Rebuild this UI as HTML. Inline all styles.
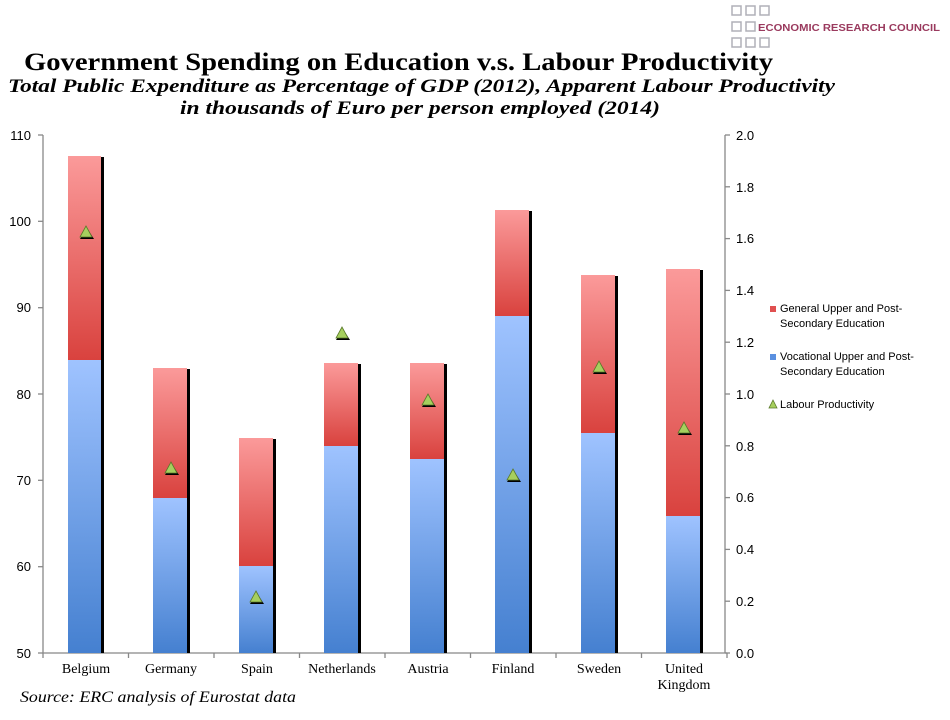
<!DOCTYPE html>
<html><head><meta charset="utf-8"><style>
body{margin:0;background:#fff;width:950px;height:715px;overflow:hidden;font-family:"Liberation Serif",serif}
</style></head><body>
<svg width="950" height="715" xmlns="http://www.w3.org/2000/svg">
<defs>
<linearGradient id="r" x1="0" y1="0" x2="0" y2="1"><stop offset="0" stop-color="#fb9a9a"/><stop offset="1" stop-color="#d9423e"/></linearGradient>
<linearGradient id="b" x1="0" y1="0" x2="0" y2="1"><stop offset="0" stop-color="#9fc3ff"/><stop offset="1" stop-color="#4580d0"/></linearGradient>
</defs>
<g fill="none" stroke="#b0b0b8" stroke-width="1.5">
<rect x="732" y="6" width="9" height="9"/><rect x="746" y="6" width="9" height="9"/><rect x="760" y="6" width="9" height="9"/>
<rect x="732" y="22" width="9" height="9"/><rect x="746" y="22" width="9" height="9"/>
<rect x="732" y="38" width="9" height="9"/><rect x="746" y="38" width="9" height="9"/><rect x="760" y="38" width="9" height="9"/>
</g>
<text x="758" y="31" font-family="Liberation Sans,sans-serif" font-weight="bold" font-size="10.5" fill="#9a3a5e" textLength="182" lengthAdjust="spacingAndGlyphs">ECONOMIC RESEARCH COUNCIL</text>
<text x="24" y="70" font-size="25" font-weight="bold" textLength="749" lengthAdjust="spacingAndGlyphs">Government Spending on Education v.s. Labour Productivity</text>
<text x="8" y="92" font-size="19" font-weight="bold" font-style="italic" textLength="827" lengthAdjust="spacingAndGlyphs">Total Public Expenditure as Percentage of GDP (2012), Apparent Labour Productivity</text>
<text x="180" y="114" font-size="19" font-weight="bold" font-style="italic" textLength="480" lengthAdjust="spacingAndGlyphs">in thousands of Euro per person employed (2014)</text>
<g stroke="#888" stroke-width="1.3">
<line x1="43" y1="135" x2="43" y2="653"/><line x1="725" y1="135" x2="725" y2="653"/><line x1="43" y1="653" x2="727" y2="653"/>
<line x1="38" y1="135" x2="43" y2="135"/><line x1="38" y1="221.3" x2="43" y2="221.3"/><line x1="38" y1="307.7" x2="43" y2="307.7"/><line x1="38" y1="394" x2="43" y2="394"/><line x1="38" y1="480.3" x2="43" y2="480.3"/><line x1="38" y1="566.7" x2="43" y2="566.7"/><line x1="38" y1="653" x2="43" y2="653"/>
<line x1="725" y1="135" x2="730" y2="135"/><line x1="725" y1="186.8" x2="730" y2="186.8"/><line x1="725" y1="238.6" x2="730" y2="238.6"/><line x1="725" y1="290.4" x2="730" y2="290.4"/><line x1="725" y1="342.2" x2="730" y2="342.2"/><line x1="725" y1="394" x2="730" y2="394"/><line x1="725" y1="445.8" x2="730" y2="445.8"/><line x1="725" y1="497.6" x2="730" y2="497.6"/><line x1="725" y1="549.4" x2="730" y2="549.4"/><line x1="725" y1="601.2" x2="730" y2="601.2"/><line x1="725" y1="653" x2="730" y2="653"/>
<line x1="128.5" y1="653" x2="128.5" y2="658"/><line x1="214" y1="653" x2="214" y2="658"/><line x1="299.5" y1="653" x2="299.5" y2="658"/><line x1="385" y1="653" x2="385" y2="658"/><line x1="470.5" y1="653" x2="470.5" y2="658"/><line x1="556" y1="653" x2="556" y2="658"/><line x1="641.5" y1="653" x2="641.5" y2="658"/><line x1="43" y1="653" x2="43" y2="658"/><line x1="727" y1="653" x2="727" y2="658"/>
</g>
<g font-size="13" font-family="Liberation Sans,sans-serif" text-anchor="end">
<text x="31" y="140">110</text><text x="31" y="226">100</text><text x="31" y="312">90</text><text x="31" y="399">80</text><text x="31" y="485">70</text><text x="31" y="571">60</text><text x="31" y="658">50</text>
</g>
<g font-size="13" font-family="Liberation Sans,sans-serif">
<text x="736" y="140">2.0</text><text x="736" y="192">1.8</text><text x="736" y="243">1.6</text><text x="736" y="295">1.4</text><text x="736" y="347">1.2</text><text x="736" y="399">1.0</text><text x="736" y="451">0.8</text><text x="736" y="502">0.6</text><text x="736" y="554">0.4</text><text x="736" y="606">0.2</text><text x="736" y="658">0.0</text>
</g>
<g id="bars">
<rect x="101" y="157" width="3" height="496"/><rect x="68" y="156" width="33" height="204" fill="url(#r)"/><rect x="68" y="360" width="33" height="293" fill="url(#b)"/>
<rect x="187" y="369" width="3" height="284"/><rect x="153" y="368" width="34" height="130" fill="url(#r)"/><rect x="153" y="498" width="34" height="155" fill="url(#b)"/>
<rect x="273" y="439" width="3" height="214"/><rect x="239" y="438" width="34" height="128" fill="url(#r)"/><rect x="239" y="566" width="34" height="87" fill="url(#b)"/>
<rect x="358" y="364" width="3" height="289"/><rect x="324" y="363" width="34" height="83" fill="url(#r)"/><rect x="324" y="446" width="34" height="207" fill="url(#b)"/>
<rect x="444" y="364" width="3" height="289"/><rect x="410" y="363" width="34" height="96" fill="url(#r)"/><rect x="410" y="459" width="34" height="194" fill="url(#b)"/>
<rect x="529" y="211" width="3" height="442"/><rect x="495" y="210" width="34" height="106" fill="url(#r)"/><rect x="495" y="316" width="34" height="337" fill="url(#b)"/>
<rect x="615" y="276" width="3" height="377"/><rect x="581" y="275" width="34" height="158" fill="url(#r)"/><rect x="581" y="433" width="34" height="220" fill="url(#b)"/>
<rect x="700" y="270" width="3" height="383"/><rect x="666" y="269" width="34" height="247" fill="url(#r)"/><rect x="666" y="516" width="34" height="137" fill="url(#b)"/>
</g>
<g id="tri">
<g transform="translate(86,232)"><path d="M1,-4 L8,7 L-6,7Z" fill="#000"/><path d="M0,-6 L6,5 L-6,5Z" fill="#a6cf5e" stroke="#5a7a2a" stroke-width="0.8"/></g>
<g transform="translate(171,468)"><path d="M1,-4 L8,7 L-6,7Z" fill="#000"/><path d="M0,-6 L6,5 L-6,5Z" fill="#a6cf5e" stroke="#5a7a2a" stroke-width="0.8"/></g>
<g transform="translate(256,597)"><path d="M1,-4 L8,7 L-6,7Z" fill="#000"/><path d="M0,-6 L6,5 L-6,5Z" fill="#a6cf5e" stroke="#5a7a2a" stroke-width="0.8"/></g>
<g transform="translate(342,333)"><path d="M1,-4 L8,7 L-6,7Z" fill="#000"/><path d="M0,-6 L6,5 L-6,5Z" fill="#a6cf5e" stroke="#5a7a2a" stroke-width="0.8"/></g>
<g transform="translate(428,400)"><path d="M1,-4 L8,7 L-6,7Z" fill="#000"/><path d="M0,-6 L6,5 L-6,5Z" fill="#a6cf5e" stroke="#5a7a2a" stroke-width="0.8"/></g>
<g transform="translate(513,475)"><path d="M1,-4 L8,7 L-6,7Z" fill="#000"/><path d="M0,-6 L6,5 L-6,5Z" fill="#a6cf5e" stroke="#5a7a2a" stroke-width="0.8"/></g>
<g transform="translate(599,367)"><path d="M1,-4 L8,7 L-6,7Z" fill="#000"/><path d="M0,-6 L6,5 L-6,5Z" fill="#a6cf5e" stroke="#5a7a2a" stroke-width="0.8"/></g>
<g transform="translate(684,428)"><path d="M1,-4 L8,7 L-6,7Z" fill="#000"/><path d="M0,-6 L6,5 L-6,5Z" fill="#a6cf5e" stroke="#5a7a2a" stroke-width="0.8"/></g>
</g>
<g font-size="14" text-anchor="middle">
<text x="86" y="673">Belgium</text><text x="171" y="673">Germany</text><text x="257" y="673">Spain</text><text x="342" y="673">Netherlands</text><text x="428" y="673">Austria</text><text x="513" y="673">Finland</text><text x="599" y="673">Sweden</text><text x="684" y="673">United</text><text x="684" y="689">Kingdom</text>
</g>
<text x="20" y="702" font-size="16" font-style="italic" textLength="276" lengthAdjust="spacingAndGlyphs">Source: ERC analysis of Eurostat data</text>
<g font-family="Liberation Sans,sans-serif" font-size="11">
<rect x="770" y="306" width="6" height="6" fill="#e05050"/>
<text x="780" y="312">General Upper and Post-</text><text x="780" y="327">Secondary Education</text>
<rect x="770" y="354" width="6" height="6" fill="#5a90e0"/>
<text x="780" y="360">Vocational Upper and Post-</text><text x="780" y="375">Secondary Education</text>
<path d="M773,400 L777,408 L769,408Z" fill="#a6cf5e" stroke="#5a7a2a" stroke-width="0.8"/>
<text x="780" y="408">Labour Productivity</text>
</g>
</svg>
</body></html>
